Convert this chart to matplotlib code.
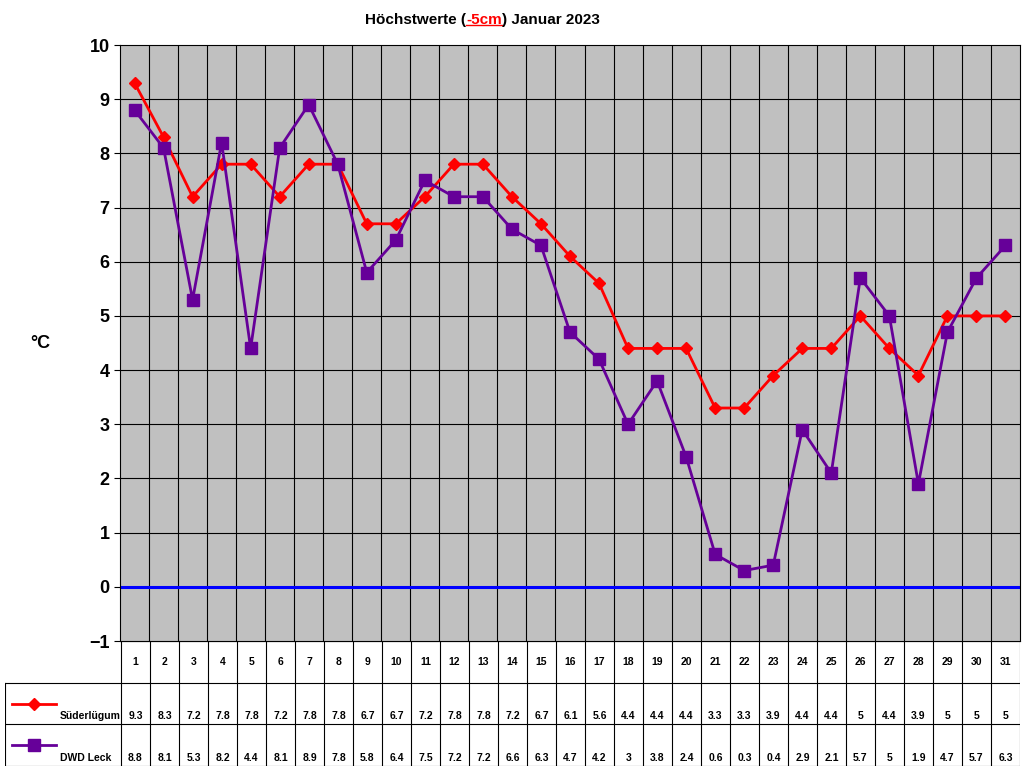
import numpy as np
import matplotlib
matplotlib.use("Agg")
import matplotlib.pyplot as plt
from matplotlib.lines import Line2D

plt.rcParams['font.family'] = ['Liberation Sans', 'DejaVu Sans']
plt.rcParams['font.weight'] = 'bold'

days = list(range(1, 32))
suederluegum = [9.3, 8.3, 7.2, 7.8, 7.8, 7.2, 7.8, 7.8, 6.7, 6.7, 7.2, 7.8, 7.8, 7.2, 6.7, 6.1,
                5.6, 4.4, 4.4, 4.4, 3.3, 3.3, 3.9, 4.4, 4.4, 5, 4.4, 3.9, 5, 5, 5]
dwd_leck = [8.8, 8.1, 5.3, 8.2, 4.4, 8.1, 8.9, 7.8, 5.8, 6.4, 7.5, 7.2, 7.2, 6.6, 6.3, 4.7,
            4.2, 3, 3.8, 2.4, 0.6, 0.3, 0.4, 2.9, 2.1, 5.7, 5, 1.9, 4.7, 5.7, 6.3]
series = [("Süderlügum", suederluegum, "#ff0000", "D"), ("DWD Leck", dwd_leck, "#660099", "s")]

W, H = 1024, 768
fig = plt.figure(figsize=(W / 100, H / 100), dpi=100)

def px_axes(x0, y0, x1, y1):
    return fig.add_axes([x0 / W, 1 - y1 / H, (x1 - x0) / W, (y1 - y0) / H])

ax = px_axes(120, 45, 1020, 641)
ax.set_facecolor("#c0c0c0")
ax.set_xlim(0.5, 31.5)
ax.set_ylim(-1, 10)
ax.set_yticks(range(-1, 11))
ax.set_xticks([])
for v in np.arange(1.5, 31.5, 1):
    ax.axvline(v, color="black", lw=0.8, zorder=1)
for v in range(0, 10):
    ax.axhline(v, color="black", lw=0.8, zorder=1)
ax.axhline(0, color="#0000ff", lw=2.2, zorder=2)
for name, vals, col, mk in series:
    ax.plot(days, vals, color=col, marker=mk, lw=2, ms=8 if mk == "s" else 6, zorder=3)
ax.tick_params(axis="y", labelsize=13, length=4)
for lab in ax.get_yticklabels():
    lab.set_fontweight("bold")
ax.text(-0.1, 0.5, "°C", transform=ax.transAxes, fontsize=13, fontweight="bold",
        ha="left", va="center")

# table
tab = px_axes(5, 641, 1020, 766)
tab.set_xlim(-3.5, 31.5)
tab.set_ylim(0, 3)
tab.axis("off")
x_left = -3.5 + 0 * 0
split = 0.5
lw = 0.8
tab.plot([split, 31.5], [3, 3], color="black", lw=lw)
for yv in (2, 1, 0):
    tab.plot([-3.5 if yv < 3 else split, 31.5], [yv, yv], color="black", lw=lw)
tab.plot([-3.5, -3.5], [0, 2], color="black", lw=lw)
for v in np.arange(0.5, 32, 1):
    tab.plot([v, v], [0, 3], color="black", lw=lw)
for d in days:
    tab.text(d, 2.5, str(d), ha="center", va="center", fontsize=7.5, fontweight="bold")
for row, (name, vals, col, mk) in enumerate(series):
    yc = 1.5 - row
    for d, v in zip(days, vals):
        tab.text(d, yc - 0.3, f"{v:g}", ha="center", va="center", fontsize=7.5, fontweight="bold")
    tab.add_line(Line2D([-3.25, -1.75], [yc, yc], color=col, lw=2))
    tab.plot([-2.5], [yc], marker=mk, color=col, ms=8 if mk == "s" else 6)
    tab.text(-1.6, yc - 0.3, name, ha="left", va="center", fontsize=7.5, fontweight="bold")

# title
ty = 1 - 20 / H
fig.text(0.5 - 0.045, ty, "Höchstwerte (", ha="right", va="center", fontsize=11, fontweight="bold")
t = fig.text(0.5 - 0.045, ty, "-5cm", ha="left", va="center", fontsize=11, fontweight="bold", color="red")
fig.canvas.draw()
bb = t.get_window_extent()
fig.add_artist(Line2D([bb.x0 / W, bb.x1 / W], [bb.y0 / H + 0.003, bb.y0 / H + 0.003], color="red", lw=1))
fig.text(bb.x1 / W, ty, ") Januar 2023", ha="left", va="center", fontsize=11, fontweight="bold")

fig.savefig("out.png", dpi=100)
